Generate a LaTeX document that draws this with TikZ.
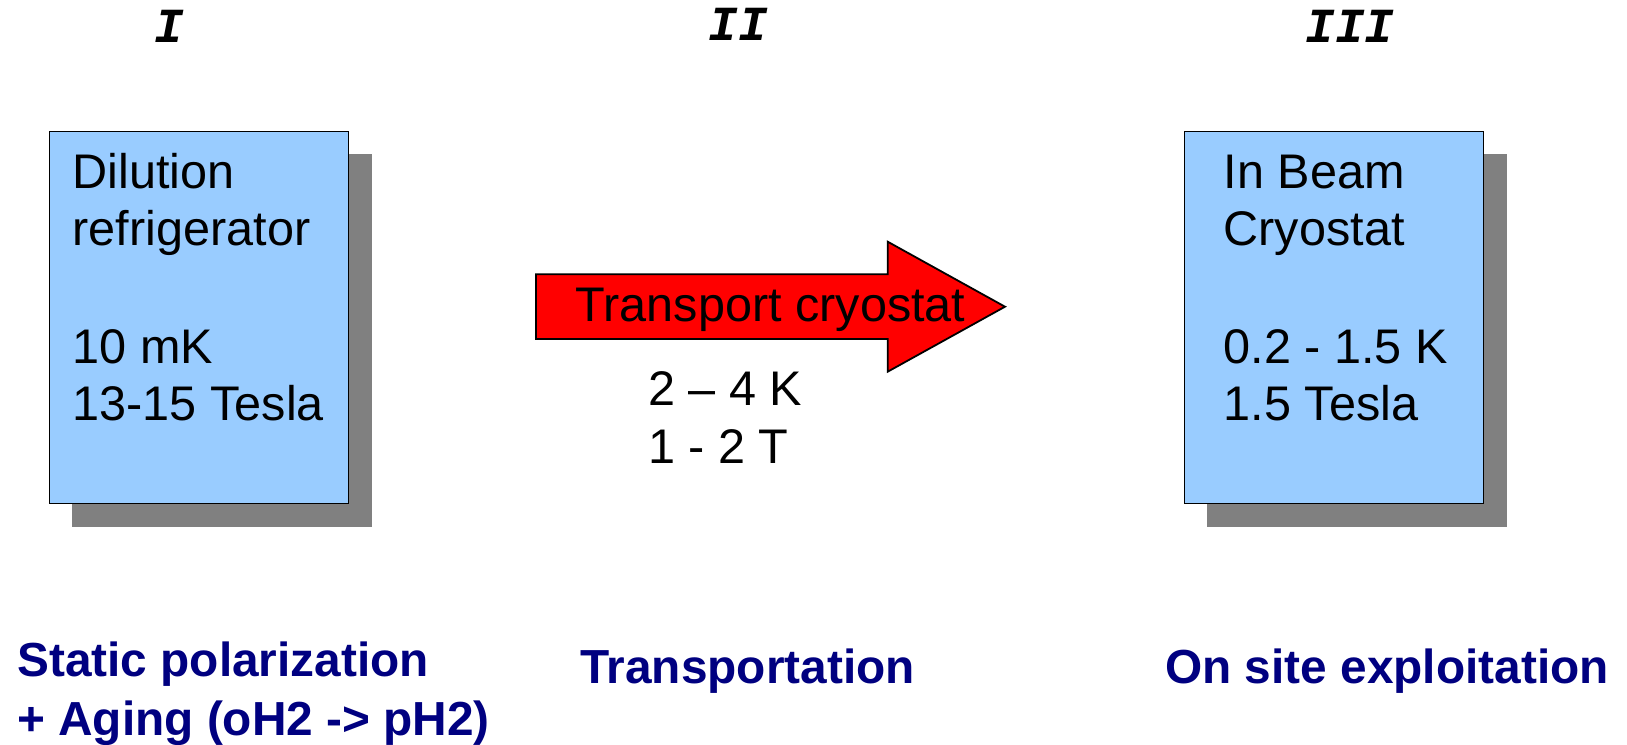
\documentclass[tikz,border=0pt]{standalone}
\usepackage{fontspec}
\setmainfont{Liberation Sans}
\newfontfamily\numfont{Liberation Mono}
\definecolor{boxblue}{HTML}{99CCFF}
\definecolor{shadowgray}{HTML}{808080}
\definecolor{navyblue}{HTML}{000080}
\begin{document}
\begin{tikzpicture}[x=1pt,y=-1pt,
  shadowbox/.style={fill=shadowgray,draw=none},
  stagebox/.style={fill=boxblue,draw=black,line width=1.2pt},
  bodytext/.style={inner sep=0pt,anchor=base west,font=\fontsize{48.6}{57}\selectfont},
  numtext/.style={inner sep=0pt,anchor=base,font=\numfont\bfseries\itshape\fontsize{49}{55}\selectfont},
  headtext/.style={inner sep=0pt,anchor=base west,text=navyblue,font=\bfseries\fontsize{47.8}{57}\selectfont},
  transarrow/.style={fill=red,draw=black,line width=1.8pt,line join=miter}]
\useasboundingbox (0,0) rectangle (1627,744);

% roman numerals
\node[numtext] (n1) at (169,42) {I};
\node[numtext] (n2) at (738,40) {II};
\node[numtext] (n3) at (1350,42) {III};

% box I
\fill[shadowbox] (71.7,154.3) rectangle (371.7,526.7);
\draw[stagebox] (49.3,131.7) rectangle (348.3,503.3);
\node[bodytext] (b1a) at (72.5,188.3) {Dilution};
\node[bodytext] (b1b) at (72.5,245.3) {refrigerator};
\node[bodytext] (b1c) at (72.5,363.3) {10 mK};
\node[bodytext] (b1d) at (72.5,420.3) {13-15 Tesla};

% box III
\fill[shadowbox] (1206.7,154.3) rectangle (1506.7,526.7);
\draw[stagebox] (1184.3,131.7) rectangle (1483.3,503.3);
\node[bodytext] (b3a) at (1223.5,188.3) {In Beam};
\node[bodytext] (b3b) at (1223.5,245.3) {Cryostat};
\node[bodytext] (b3c) at (1223.5,363.3) {0.2 - 1.5 K};
\node[bodytext] (b3d) at (1223.5,420.3) {1.5 Tesla};

% transport arrow
\draw[transarrow] (536,274.3) -- (887.7,274.3) -- (887.7,241.7) -- (1005,306.7)
  -- (887.7,371.7) -- (887.7,339) -- (536,339) -- cycle;
\node[bodytext,anchor=base] (tc) at (770.5,321.7) {Transport cryostat};
\node[bodytext] (t1) at (648,405) {2 – 4 K};
\node[bodytext] (t2) at (648,463.3) {1 - 2 T};

% bottom headings
\node[headtext] (h1a) at (17,676) {Static polarization};
\node[headtext] (h1b) at (17,735) {+ Aging (oH2 -> pH2)};
\node[headtext] (h2) at (580,683) {Transportation};
\node[headtext] (h3) at (1165,683) {On site exploitation};
\end{tikzpicture}
\end{document}
